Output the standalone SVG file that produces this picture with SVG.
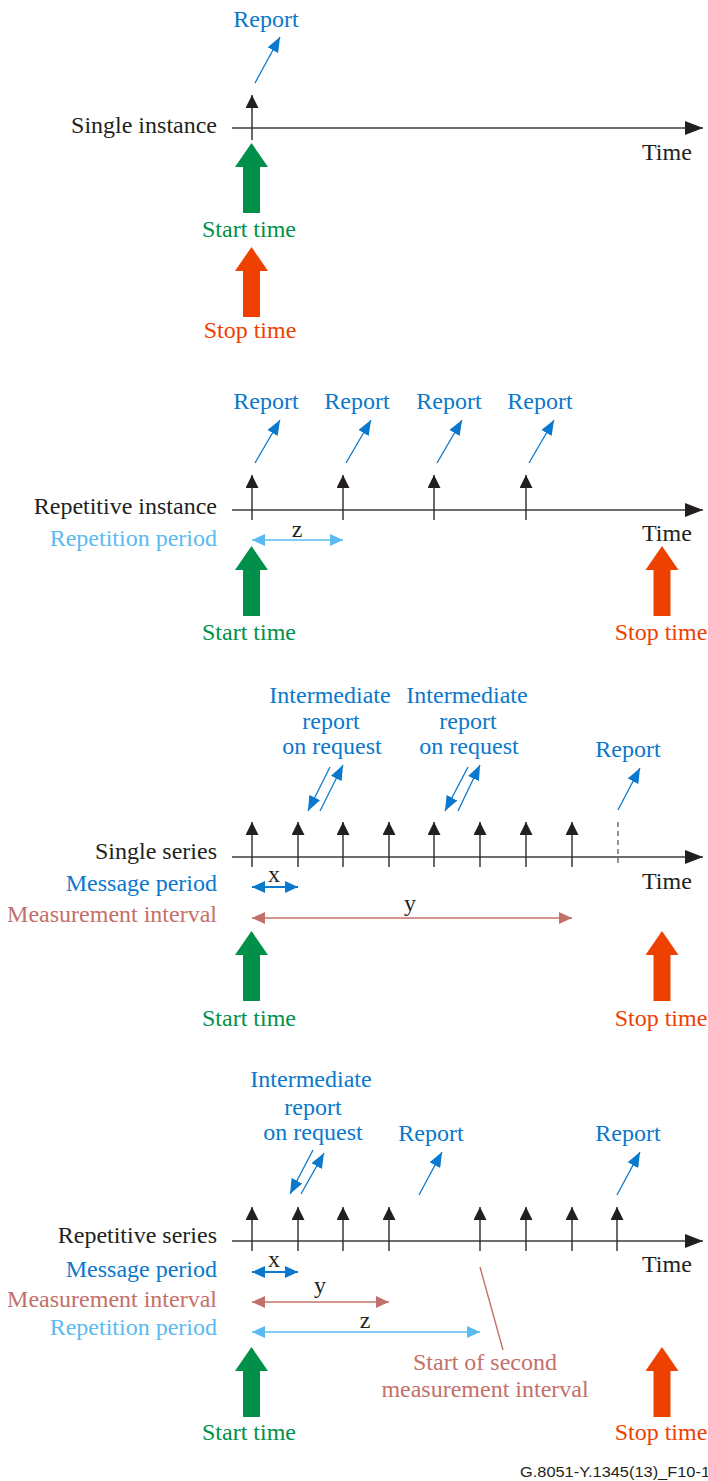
<svg xmlns="http://www.w3.org/2000/svg" width="708" height="1481" viewBox="0 0 708 1481">
<style>
text{font-family:"Liberation Serif","Times New Roman",serif;font-size:24px}
.k{fill:#231f20}.b{fill:#0a78cc}.lb{fill:#5bbaf0}.r{fill:#c4706a}.g{fill:#00904a}.o{fill:#ee4000}
.e{text-anchor:end}.m{text-anchor:middle}
.ax{stroke:#3c3c3c;stroke-width:1.4;fill:none}
.tk{stroke:#2a2a2a;stroke-width:1.4;fill:none}
.rp{stroke:#0a78cc;stroke-width:1.3;fill:none}
.dx{stroke:#0a78cc;stroke-width:2;fill:none}
.dy{stroke:#c4706a;stroke-width:1.6;fill:none}
.dz{stroke:#5bbaf0;stroke-width:1.6;fill:none}
</style>
<defs>
<marker id="mAx" markerUnits="userSpaceOnUse" markerWidth="18" markerHeight="14" refX="18" refY="7" orient="auto"><path d="M0,0L18,7L0,14z" fill="#231f20"/></marker>
<marker id="mTk" markerUnits="userSpaceOnUse" markerWidth="13" markerHeight="13" refX="13" refY="6.5" orient="auto"><path d="M0,0L13,6.5L0,13z" fill="#231f20"/></marker>
<marker id="mRp" markerUnits="userSpaceOnUse" markerWidth="15" markerHeight="12" refX="15" refY="6" orient="auto"><path d="M0,0L15,6L0,12z" fill="#0a78cc"/></marker>
<marker id="mX" markerUnits="userSpaceOnUse" markerWidth="13" markerHeight="12" refX="13" refY="6" orient="auto-start-reverse"><path d="M0,0L13,6L0,12z" fill="#0a78cc"/></marker>
<marker id="mY" markerUnits="userSpaceOnUse" markerWidth="13" markerHeight="12" refX="13" refY="6" orient="auto-start-reverse"><path d="M0,0L13,6L0,12z" fill="#c4706a"/></marker>
<marker id="mZ" markerUnits="userSpaceOnUse" markerWidth="13" markerHeight="12" refX="13" refY="6" orient="auto-start-reverse"><path d="M0,0L13,6L0,12z" fill="#5bbaf0"/></marker>
<path id="bigArrow" d="M0,0L16.5,24L8.5,24L8.5,70L-8.5,70L-8.5,24L-16.5,24z"/>
</defs>

<!-- Section 1: Single instance -->
<g id="single-instance">
<text class="k e" x="217" y="133">Single instance</text>
<text class="k" x="642" y="160">Time</text>
<text class="b m" x="266" y="27">Report</text>
<use href="#bigArrow" x="251.5" y="143" class="g"/>
<text class="g m" x="249" y="237">Start time</text>
<use href="#bigArrow" x="251.5" y="247" class="o"/>
<text class="o m" x="250" y="338">Stop time</text>
</g>

<!-- Section 2: Repetitive instance -->
<g id="repetitive-instance">
<text class="k e" x="217" y="514">Repetitive instance</text>
<text class="lb e" x="217" y="546">Repetition period</text>
<text class="k" x="642" y="541">Time</text>
<text class="b m" x="266" y="409">Report</text>
<text class="b m" x="357" y="409">Report</text>
<text class="b m" x="449" y="409">Report</text>
<text class="b m" x="540" y="409">Report</text>
<text class="k m" x="297" y="537">z</text>
<use href="#bigArrow" x="251.5" y="546" class="g"/>
<text class="g m" x="249" y="640">Start time</text>
<use href="#bigArrow" x="662" y="546" class="o"/>
<text class="o m" x="661" y="640">Stop time</text>
</g>

<!-- Section 3: Single series -->
<g id="single-series">
<text class="k e" x="217" y="859">Single series</text>
<text class="b e" x="217" y="891">Message period</text>
<text class="r e" x="217" y="922">Measurement interval</text>
<text class="k" x="642" y="889">Time</text>
<text class="b m" x="330" y="703">Intermediate</text>
<text class="b m" x="331" y="729">report</text>
<text class="b m" x="332" y="754">on request</text>
<text class="b m" x="467" y="703">Intermediate</text>
<text class="b m" x="468" y="729">report</text>
<text class="b m" x="469" y="754">on request</text>
<text class="b m" x="628" y="757">Report</text>
<text class="k m" x="274" y="882">x</text>
<text class="k m" x="410" y="911">y</text>
<use href="#bigArrow" x="251.5" y="931" class="g"/>
<text class="g m" x="249" y="1026">Start time</text>
<use href="#bigArrow" x="662" y="931" class="o"/>
<text class="o m" x="661" y="1026">Stop time</text>
</g>

<!-- Section 4: Repetitive series -->
<g id="repetitive-series">
<text class="k e" x="217" y="1243">Repetitive series</text>
<text class="b e" x="217" y="1277">Message period</text>
<text class="r e" x="217" y="1307">Measurement interval</text>
<text class="lb e" x="217" y="1335">Repetition period</text>
<text class="k" x="642" y="1272">Time</text>
<text class="b m" x="311" y="1087">Intermediate</text>
<text class="b m" x="313" y="1115">report</text>
<text class="b m" x="313" y="1140">on request</text>
<text class="b m" x="431" y="1141">Report</text>
<text class="b m" x="628" y="1141">Report</text>
<text class="k m" x="274" y="1267">x</text>
<text class="k m" x="320" y="1293">y</text>
<text class="k m" x="365" y="1328">z</text>
<text class="r m" x="485" y="1370">Start of second</text>
<text class="r m" x="485" y="1397">measurement interval</text>
<use href="#bigArrow" x="251.5" y="1347" class="g"/>
<text class="g m" x="249" y="1440">Start time</text>
<use href="#bigArrow" x="662" y="1347" class="o"/>
<text class="o m" x="661" y="1440">Stop time</text>
</g>

<g id="figure-id">
<text x="520" y="1477" style="font-family:'Liberation Sans',Arial,sans-serif;font-size:15px" fill="#231f20" textLength="190" lengthAdjust="spacingAndGlyphs">G.8051-Y.1345(13)_F10-1</text>
</g>

<g id="connectors">
<!-- Section 1 -->
<line class="ax" x1="232" y1="128" x2="703" y2="128" marker-end="url(#mAx)"/>
<line class="tk" x1="252" y1="140" x2="252" y2="95" marker-end="url(#mTk)"/>
<line class="rp" x1="255" y1="83" x2="280" y2="37" marker-end="url(#mRp)"/>
<!-- Section 2 -->
<line class="ax" x1="232" y1="510" x2="703" y2="510" marker-end="url(#mAx)"/>
<line class="tk" x1="252" y1="520" x2="252" y2="475" marker-end="url(#mTk)"/>
<line class="tk" x1="343" y1="520" x2="343" y2="475" marker-end="url(#mTk)"/>
<line class="tk" x1="434" y1="520" x2="434" y2="475" marker-end="url(#mTk)"/>
<line class="tk" x1="526" y1="520" x2="526" y2="475" marker-end="url(#mTk)"/>
<line class="rp" x1="255" y1="463" x2="280" y2="420" marker-end="url(#mRp)"/>
<line class="rp" x1="346" y1="463" x2="371" y2="420" marker-end="url(#mRp)"/>
<line class="rp" x1="437" y1="463" x2="462" y2="420" marker-end="url(#mRp)"/>
<line class="rp" x1="529" y1="463" x2="554" y2="420" marker-end="url(#mRp)"/>
<line class="dz" x1="252" y1="540" x2="343" y2="540" marker-start="url(#mZ)" marker-end="url(#mZ)"/>
<!-- Section 3 -->
<line class="ax" x1="232" y1="857" x2="703" y2="857" marker-end="url(#mAx)"/>
<line class="tk" x1="252" y1="867" x2="252" y2="822" marker-end="url(#mTk)"/>
<line class="tk" x1="298" y1="867" x2="298" y2="822" marker-end="url(#mTk)"/>
<line class="tk" x1="343" y1="867" x2="343" y2="822" marker-end="url(#mTk)"/>
<line class="tk" x1="389" y1="867" x2="389" y2="822" marker-end="url(#mTk)"/>
<line class="tk" x1="434" y1="867" x2="434" y2="822" marker-end="url(#mTk)"/>
<line class="tk" x1="480" y1="867" x2="480" y2="822" marker-end="url(#mTk)"/>
<line class="tk" x1="526" y1="867" x2="526" y2="822" marker-end="url(#mTk)"/>
<line class="tk" x1="572" y1="867" x2="572" y2="822" marker-end="url(#mTk)"/>
<line x1="618" y1="822" x2="618" y2="866" stroke="#666" stroke-width="1.4" stroke-dasharray="5,4"/>
<line class="rp" x1="330" y1="767" x2="308" y2="811" marker-end="url(#mRp)"/>
<line class="rp" x1="320" y1="811" x2="343" y2="765" marker-end="url(#mRp)"/>
<line class="rp" x1="468" y1="767" x2="445" y2="811" marker-end="url(#mRp)"/>
<line class="rp" x1="458" y1="811" x2="480" y2="765" marker-end="url(#mRp)"/>
<line class="rp" x1="618" y1="810" x2="640" y2="768" marker-end="url(#mRp)"/>
<line class="dx" x1="252" y1="887" x2="298" y2="887" marker-start="url(#mX)" marker-end="url(#mX)"/>
<line class="dy" x1="252" y1="918" x2="572" y2="918" marker-start="url(#mY)" marker-end="url(#mY)"/>
<!-- Section 4 -->
<line class="ax" x1="232" y1="1241" x2="703" y2="1241" marker-end="url(#mAx)"/>
<line class="tk" x1="252" y1="1251" x2="252" y2="1207" marker-end="url(#mTk)"/>
<line class="tk" x1="298" y1="1251" x2="298" y2="1207" marker-end="url(#mTk)"/>
<line class="tk" x1="343" y1="1251" x2="343" y2="1207" marker-end="url(#mTk)"/>
<line class="tk" x1="389" y1="1251" x2="389" y2="1207" marker-end="url(#mTk)"/>
<line class="tk" x1="480" y1="1251" x2="480" y2="1207" marker-end="url(#mTk)"/>
<line class="tk" x1="526" y1="1251" x2="526" y2="1207" marker-end="url(#mTk)"/>
<line class="tk" x1="572" y1="1251" x2="572" y2="1207" marker-end="url(#mTk)"/>
<line class="tk" x1="617" y1="1251" x2="617" y2="1207" marker-end="url(#mTk)"/>
<line class="rp" x1="313" y1="1150" x2="290" y2="1194" marker-end="url(#mRp)"/>
<line class="rp" x1="301" y1="1194" x2="324" y2="1153" marker-end="url(#mRp)"/>
<line class="rp" x1="419" y1="1195" x2="442" y2="1152" marker-end="url(#mRp)"/>
<line class="rp" x1="617" y1="1195" x2="640" y2="1152" marker-end="url(#mRp)"/>
<line class="dx" x1="252" y1="1272" x2="298" y2="1272" marker-start="url(#mX)" marker-end="url(#mX)"/>
<line class="dy" x1="252" y1="1302" x2="389" y2="1302" marker-start="url(#mY)" marker-end="url(#mY)"/>
<line class="dz" x1="252" y1="1332" x2="480" y2="1332" marker-start="url(#mZ)" marker-end="url(#mZ)"/>
<line x1="480" y1="1267" x2="503" y2="1350" stroke="#c4706a" stroke-width="1.4"/>
</g>
</svg>
